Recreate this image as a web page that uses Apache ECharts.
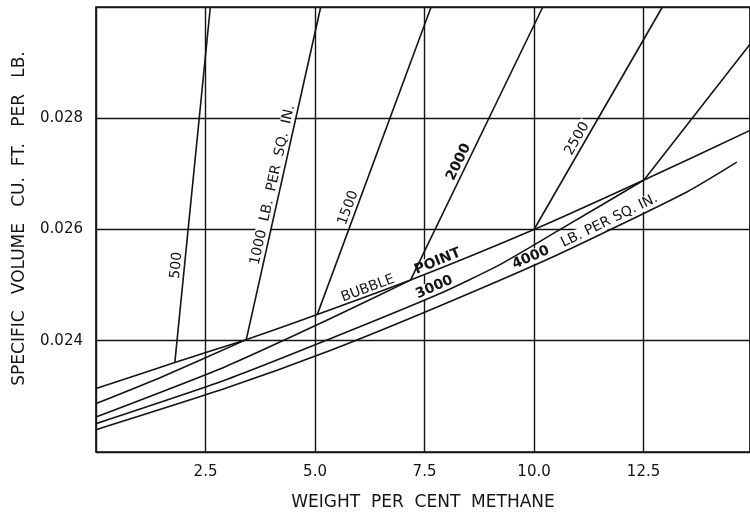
<!DOCTYPE html>
<html>
<head>
<meta charset="utf-8">
<script src="https://cdn.jsdelivr.net/npm/echarts@6/dist/echarts.min.js"></script>
<style>
  html, body { margin: 0; padding: 0; background: #fff; }
  #chart { width: 750px; height: 517px; }
</style>
</head>
<body>
<div id="chart"></div>
<script>
// Axis ticks: weight per cent methane (x), specific volume cu. ft. per lb. (y)
const xTicks = [2.5, 5.0, 7.5, 10.0, 12.5];
const yTicks = [0.024, 0.026, 0.028];

// Bubble-point curve
const bubbleX = [0, 1.80, 3.43, 5.05, 7.18, 10.00, 12.51, 14.93];
const bubbleY = [0.02314, 0.02361, 0.02402, 0.02447, 0.02509, 0.02600, 0.02689, 0.02778];

// Compressed-liquid isobars below the bubble point
const liquid1000X = [0, 1.50, 3.43];
const liquid1000Y = [0.02287, 0.02335, 0.02402];
const liquid2000X = [0, 2.94, 5.33, 7.18];
const liquid2000Y = [0.02263, 0.02353, 0.02439, 0.02509];
const liquid3000X = [0, 2.94, 5.33, 7.80, 9.20, 10.55, 12.51];
const liquid3000Y = [0.02251, 0.02329, 0.02403, 0.02483, 0.02536, 0.02598, 0.02689];
const liquid4000X = [0, 2.94, 5.33, 7.83, 10.55, 13.50, 14.63];
const liquid4000Y = [0.02240, 0.02314, 0.02382, 0.02462, 0.02555, 0.02668, 0.02721];

// Two-phase isobars rising from the bubble-point curve (lb. per sq. in.)
const isobarPressure = [500, 1000, 1500, 2000, 2500, 3000];
const isobarStartX = [1.80, 3.43, 5.05, 7.18, 10.00, 12.51];
const isobarStartY = [0.02361, 0.02402, 0.02447, 0.02509, 0.02600, 0.02689];
const isobarEndX = [2.61, 5.13, 7.65, 10.20, 12.93, 14.93];
const isobarEndY = [0.030, 0.030, 0.030, 0.030, 0.030, 0.02933];

const ink = '#141414';
const font = '"DejaVu Sans", sans-serif';

const pairs = (xs, ys) => xs.map((x, i) => [x, ys[i]]);
const lineSeries = (name, data, smooth) => ({
  type: 'line', name, data,
  symbol: 'none', smooth: smooth || false,
  lineStyle: { color: ink, width: 1.6, join: 'round' },
  silent: true, animation: false, z: 3
});

const near = (list, v) => list.some(t => Math.abs(t - v) < 1e-7);

const chart = echarts.init(document.getElementById('chart'), null, { renderer: 'canvas' });
chart.setOption({
  animation: false,
  backgroundColor: '#fff',
  grid: {
    left: 96, right: -3, top: 7, bottom: 65,
    show: true, borderColor: ink, borderWidth: 1.7, backgroundColor: '#fff'
  },
  xAxis: {
    type: 'value', min: 0, max: 14.93, interval: 2.5,
    axisLine: { show: false }, axisTick: { show: false },
    splitLine: { show: true, lineStyle: { color: ink, width: 1.4 } },
    axisLabel: {
      margin: 13, color: ink, fontSize: 15, fontFamily: font,
      showMaxLabel: false,
      formatter: v => near(xTicks, v) ? v.toFixed(1) : ''
    },
    name: 'WEIGHT  PER  CENT  METHANE',
    nameLocation: 'middle', nameGap: 42,
    nameTextStyle: { color: ink, fontSize: 17, fontFamily: font }
  },
  yAxis: {
    type: 'value', min: 0.022, max: 0.030, interval: 0.002,
    axisLine: { show: false }, axisTick: { show: false },
    splitLine: { show: true, lineStyle: { color: ink, width: 1.4 } },
    axisLabel: {
      margin: 13, color: ink, fontSize: 15, fontFamily: font,
      formatter: v => near(yTicks, v) ? v.toFixed(3) : ''
    },
    name: 'SPECIFIC   VOLUME   CU.  FT.   PER   LB.',
    nameLocation: 'middle', nameGap: 68, nameRotate: 90,
    nameTextStyle: { color: ink, fontSize: 17, fontFamily: font, padding: [0, 0, 0, 22] }
  },
  series: [
    lineSeries('Bubble point', pairs(bubbleX, bubbleY), 0.2),
    lineSeries('1000 liquid', pairs(liquid1000X, liquid1000Y), 0.2),
    lineSeries('2000 liquid', pairs(liquid2000X, liquid2000Y), 0.2),
    lineSeries('3000 liquid', pairs(liquid3000X, liquid3000Y), 0.2),
    lineSeries('4000 liquid', pairs(liquid4000X, liquid4000Y), 0.2),
    ...isobarPressure.map((p, i) => lineSeries(p + ' two-phase',
      [[isobarStartX[i], isobarStartY[i]], [isobarEndX[i], isobarEndY[i]]]))
  ]
});

// Text set along the curves
function interp(xs, ys, x) {
  for (let i = 1; i < xs.length; i++) {
    if (x <= xs[i]) {
      const t = (x - xs[i - 1]) / (xs[i] - xs[i - 1]);
      return ys[i - 1] + t * (ys[i] - ys[i - 1]);
    }
  }
  return ys[ys.length - 1];
}
const toPx = (x, y) => chart.convertToPixel({ gridIndex: 0 }, [x, y]);

function placeText(text, p0, p1, offset, bold) {
  const a = Math.atan2(-(p1[1] - p0[1]), p1[0] - p0[0]);
  const ux = -Math.sin(a), uy = -Math.cos(a);
  return {
    type: 'text', z: 1,
    x: p0[0] + ux * offset, y: p0[1] + uy * offset,
    rotation: a,
    style: {
      text, fill: ink, fontFamily: font, fontSize: 14,
      fontWeight: bold ? 'bold' : 'normal',
      align: 'center', verticalAlign: 'middle',
      backgroundColor: '#fff', padding: [0, 2]
    }
  };
}
// label on a two-phase isobar, anchored at a specific volume
function isobarText(text, i, atY, offset, bold) {
  const t = (atY - isobarStartY[i]) / (isobarEndY[i] - isobarStartY[i]);
  const x = isobarStartX[i] + t * (isobarEndX[i] - isobarStartX[i]);
  const p0 = toPx(x, atY);
  const p1 = toPx(isobarEndX[i], isobarEndY[i]);
  const pa = toPx(isobarStartX[i], isobarStartY[i]);
  return placeText(text, p0, [p0[0] + (p1[0] - pa[0]), p0[1] + (p1[1] - pa[1])], offset, bold);
}
// label on a curve, anchored at a methane content
function curveText(text, xs, ys, atX, offset, bold) {
  const pa = toPx(atX - 0.4, interp(xs, ys, atX - 0.4));
  const pb = toPx(atX + 0.4, interp(xs, ys, atX + 0.4));
  const p0 = toPx(atX, interp(xs, ys, atX));
  return placeText(text, p0, [p0[0] + (pb[0] - pa[0]), p0[1] + (pb[1] - pa[1])], offset, bold);
}

chart.setOption({
  graphic: [
    isobarText('500', 0, 0.02534, 8, false),
    isobarText('1000  LB.  PER  SQ.  IN.', 1, 0.02677, 8, false),
    isobarText('1500', 2, 0.02634, 8, false),
    isobarText('2000', 3, 0.02715, 8, true),
    isobarText('2500', 4, 0.02756, 8, false),
    curveText('BUBBLE', bubbleX, bubbleY, 6.26, 7, false),
    curveText('POINT', bubbleX, bubbleY, 7.86, 7, true),
    curveText('3000', liquid3000X, liquid3000Y, 7.80, 8, true),
    curveText('4000', liquid4000X, liquid4000Y, 10.0, 8, true),
    curveText('LB. PER SQ. IN.', liquid4000X, liquid4000Y, 11.8, 8, false)
  ]
});
</script>
</body>
</html>
